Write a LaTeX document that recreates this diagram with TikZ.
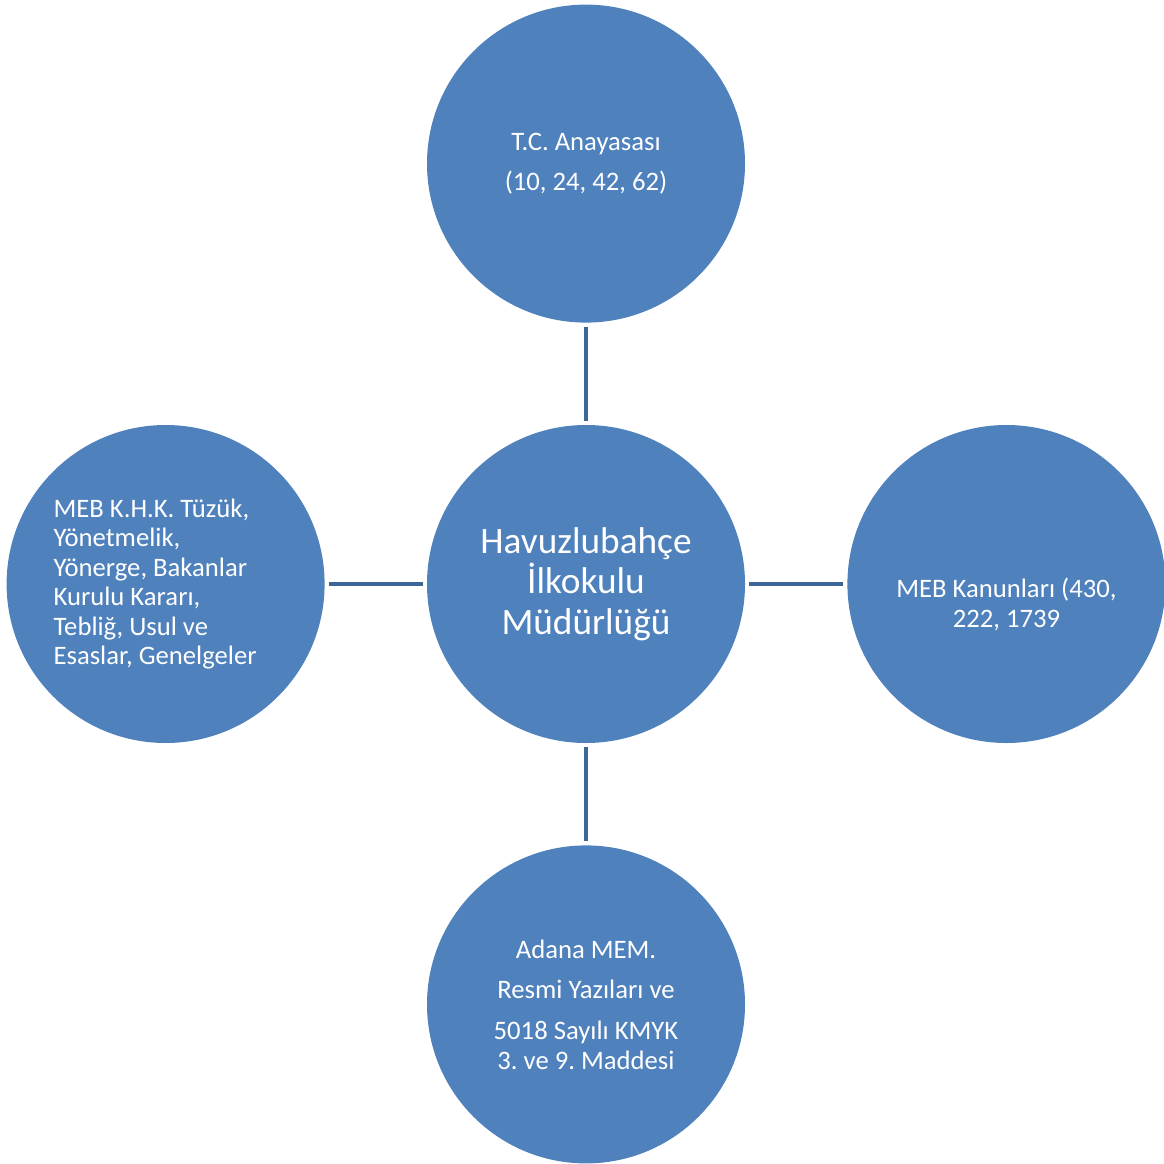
\documentclass[tikz,border=0pt]{standalone}
\usepackage{fontspec}
\setmainfont{Carlito}
\usepackage{tikz}
\usetikzlibrary{positioning}
\definecolor{circleblue}{HTML}{4F81BD}
\definecolor{linkblue}{HTML}{3C6796}
\frenchspacing
\newcommand\plainspaces{\spaceskip=0pt\relax\xspaceskip=0pt\relax}

\begin{document}
\begin{tikzpicture}[x=1pt, y=-1pt, node distance=102pt,
	unit/.style = {circle, fill=circleblue, text=white, minimum size=318pt, inner sep=0pt,
		align=center, font=\fontsize{26.67}{29.4}\selectfont},
	hub/.style = {unit, font=\fontsize{37.3}{40.5}\selectfont},
	link/.style = {draw=linkblue, line width=4pt, shorten >=4pt, shorten <=4pt}]

	\useasboundingbox (0,0) rectangle (1163,1164);

	\begin{scope}
		\node [hub] (school) at (586,584) {Havuzlubahçe\\İlkokulu\\Müdürlüğü};
		\node [unit, above=of school] (constitution) {\plainspaces T.C. Anayasası\\[10.6pt](10, 24, 42, 62)};
		\node [unit, left=of school, text width=224pt, align=left] (rules)
			{\plainspaces MEB K.H.K. Tüzük,\\Yönetmelik,\\Yönerge, Bakanlar\\Kurulu Kararı,\\Tebliğ, Usul ve\\Esaslar, Genelgeler};
		\node [unit, right=of school] (laws) {\strut\\[10.6pt]\plainspaces MEB Kanunları (430,\\222, 1739};
		\node [unit, below=of school] (adana)
			{\plainspaces Adana MEM.\\[11.4pt]Resmi Yazıları ve\\[11.4pt]5018 Sayılı KMYK\\3. ve 9. Maddesi};
	\end{scope}

	\begin{scope}[link]
		\draw (constitution) -- (school);
		\draw (rules) -- (school);
		\draw (school) -- (laws);
		\draw (school) -- (adana);
	\end{scope}
\end{tikzpicture}
\end{document}
